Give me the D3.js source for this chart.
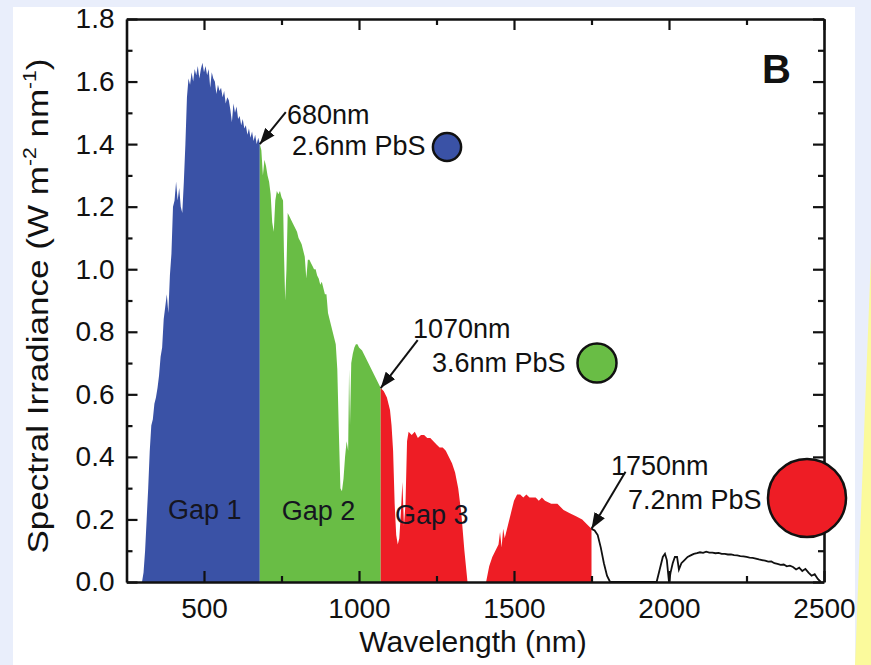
<!DOCTYPE html>
<html>
<head>
<meta charset="utf-8">
<script src="https://cdn.jsdelivr.net/npm/d3@7"></script>
<style>
  body { margin: 0; background: #e9eefb; }
  text { font-family: "Liberation Sans", Arial, sans-serif; }
</style>
</head>
<body>
<script>
// spectrum, split by band gap colour (W m-2 nm-1)
var gap1Nm = [300,305,310,315,320,325,330,335,340,345,350,355,360,365,370,375,380,385,390,395,
  400,405,410,415,420,425,430,435,440,445,450,455,460,465,470,475,480,485,490,495,
  500,505,510,515,520,525,530,535,540,545,550,555,560,565,570,575,580,585,590,595,
  600,605,610,615,620,625,630,635,640,645,650,655,660,665,670,675,680];
var gap1Irr = [0.00,0.03,0.10,0.20,0.30,0.42,0.50,0.52,0.57,0.59,0.62,0.66,0.72,0.75,0.84,0.88,0.92,0.86,0.98,1.05,
  1.20,1.22,1.28,1.22,1.26,1.20,1.18,1.28,1.40,1.55,1.61,1.59,1.63,1.60,1.64,1.62,1.65,1.61,1.64,1.66,
  1.63,1.65,1.62,1.64,1.58,1.63,1.61,1.60,1.56,1.59,1.57,1.58,1.55,1.57,1.53,1.55,1.54,1.51,1.47,1.53,
  1.50,1.52,1.48,1.49,1.46,1.48,1.45,1.46,1.43,1.45,1.42,1.44,1.41,1.43,1.40,1.42,1.40];

var gap2Nm = [680,685,690,695,700,705,710,715,720,725,730,735,740,745,750,755,758,762,766,770,
  775,780,790,800,805,810,815,820,825,830,835,840,845,850,855,860,865,870,875,880,
  885,890,895,900,905,910,915,920,925,930,935,940,945,950,955,960,965,968,971,975,
  980,985,990,995,1000,1010,1020,1030,1040,1050,1060,1070];
var gap2Irr = [1.40,1.38,1.30,1.35,1.33,1.30,1.28,1.24,1.15,1.12,1.22,1.25,1.24,1.25,1.23,1.22,1.05,0.90,1.00,1.18,
  1.17,1.16,1.14,1.12,1.10,1.09,1.08,1.06,1.04,0.97,1.03,1.03,1.02,1.01,1.00,1.00,0.98,0.97,0.95,0.96,
  0.94,0.92,0.92,0.86,0.84,0.82,0.80,0.78,0.76,0.68,0.48,0.30,0.29,0.33,0.40,0.45,0.42,0.68,0.50,0.70,
  0.73,0.75,0.76,0.76,0.75,0.74,0.72,0.70,0.68,0.66,0.64,0.62];

var gap3Nm = [1070,1080,1090,1100,1105,1110,1115,1120,1125,1130,1135,1140,1145,1150,1155,1160,1170,1180,1190,1200,
  1210,1220,1230,1240,1250,1260,1270,1280,1290,1300,1310,1320,1330,1340,1350,1410,1420,1430,1440,1450,
  1455,1460,1465,1470,1480,1490,1500,1510,1520,1530,1540,1550,1560,1570,1580,1590,1600,1620,1640,1660,
  1680,1700,1720,1740,1750];
var gap3Irr = [0.62,0.61,0.59,0.55,0.50,0.42,0.25,0.15,0.12,0.14,0.22,0.32,0.18,0.25,0.45,0.48,0.47,0.48,0.46,0.47,
  0.47,0.46,0.46,0.45,0.44,0.43,0.43,0.42,0.40,0.38,0.35,0.30,0.22,0.10,0.00,0.00,0.05,0.08,0.10,0.12,
  0.16,0.11,0.17,0.14,0.18,0.22,0.26,0.28,0.28,0.27,0.28,0.27,0.27,0.27,0.26,0.27,0.26,0.25,0.25,0.23,
  0.22,0.21,0.20,0.18,0.17];

var tailNm = [1750,1760,1770,1780,1790,1800,1810,1960,1970,1980,1987,1993,2000,2005,2012,2019,2026,2032,2040,2050,
  2060,2070,2080,2090,2100,2110,2120,2130,2140,2150,2160,2170,2180,2190,2200,2210,2220,2230,2240,2250,
  2260,2270,2280,2290,2300,2310,2320,2330,2340,2350,2360,2370,2380,2390,2400,2410,2420,2430,2440,2450,
  2460,2470,2480,2490];
var tailIrr = [0.17,0.165,0.15,0.11,0.06,0.02,0.00,0.00,0.04,0.08,0.09,0.07,0.00,0.03,0.06,0.08,0.08,0.04,0.06,0.07,
  0.08,0.085,0.09,0.092,0.095,0.093,0.097,0.094,0.094,0.092,0.093,0.09,0.09,0.088,0.088,0.086,0.085,0.083,0.082,0.08,
  0.078,0.077,0.075,0.072,0.07,0.068,0.065,0.066,0.06,0.058,0.055,0.056,0.05,0.052,0.048,0.04,0.046,0.035,0.042,0.03,
  0.02,0.025,0.01,0.00];

var gapNames = ["Gap 1", "Gap 2", "Gap 3"];
var cutoffNm = [680, 1070, 1750];
var cutoffLabels = ["680nm", "1070nm", "1750nm"];
var dotLabels = ["2.6nm PbS", "3.6nm PbS", "7.2nm PbS"];
var dotSizes = [2.6, 3.6, 7.2];

var xTicks = [500,750,1000,1250,1500,1750,2000,2250,2500];
var xLabels = [500,1000,1500,2000,2500];
var yTicks = [0,0.1,0.2,0.3,0.4,0.5,0.6,0.7,0.8,0.9,1.0,1.1,1.2,1.3,1.4,1.5,1.6,1.7,1.8];

var colors = ["#3a52a6", "#69bd45", "#ee1d25"];

var svg = d3.select("body").append("svg")
    .attr("width", 871)
    .attr("height", 665);

// page background: white card, yellow wedge on the right
svg.append("rect").attr("width", 871).attr("height", 665).attr("fill", "#e9eefb");
svg.append("rect").attr("x", 13).attr("y", 7).attr("width", 842).attr("height", 658).attr("fill", "#ffffff");
svg.append("path").attr("d", "M871,255L871,665L855,665Z").attr("fill", "#fbfa9c");

var x = d3.scaleLinear().domain([250, 2500]).range([126.5, 824]);
var y = d3.scaleLinear().domain([0, 1.8]).range([582, 19]);

var area = d3.area()
    .x(function(d) { return x(d[0]); })
    .y0(y(0))
    .y1(function(d) { return y(d[1]); });

var bands = [d3.zip(gap1Nm, gap1Irr), d3.zip(gap2Nm, gap2Irr), d3.zip(gap3Nm, gap3Irr)];

svg.selectAll(".band")
  .data(bands)
  .join("path")
    .attr("class", "band")
    .attr("d", area)
    .attr("fill", function(d, i) { return colors[i]; });

svg.append("path")
    .datum(d3.zip(tailNm, tailIrr))
    .attr("d", d3.line().x(function(d) { return x(d[0]); }).y(function(d) { return y(d[1]); }))
    .attr("fill", "none")
    .attr("stroke", "#111")
    .attr("stroke-width", 1.8);

// gap names inside the coloured bands
var gapLabelNm = [384, 751, 1116];
var gapLabelY = [519, 520, 524];
svg.selectAll(".gapname")
  .data(gapNames)
  .join("text")
    .attr("x", function(d, i) { return x(gapLabelNm[i]); })
    .attr("y", function(d, i) { return gapLabelY[i]; })
    .attr("font-size", 27)
    .attr("fill", "#151520")
    .text(function(d) { return d; });

// axes, ticks pointing inward
var isXLabel = function(d) { return xLabels.indexOf(d) >= 0; };
var isYLabel = function(d) { return Math.round(d * 10) % 2 === 0; };

function styleAxis(g) {
  g.select(".domain").attr("stroke", "#111").attr("stroke-width", 2.6);
  g.selectAll(".tick line").attr("stroke", "#111").attr("stroke-width", 2.2);
  g.selectAll(".tick text").attr("font-size", 28).attr("fill", "#111")
    .attr("font-family", '"Liberation Sans", Arial, sans-serif');
}

var gx = svg.append("g").attr("transform", "translate(0," + y(0) + ")")
  .call(d3.axisBottom(x).tickValues(xTicks).tickSize(-11).tickSizeOuter(0).tickPadding(16)
    .tickFormat(function(d) { return isXLabel(d) ? d : ""; }))
  .call(styleAxis);
gx.selectAll(".tick").filter(function(d) { return !isXLabel(d); }).select("line").attr("y2", -6);

var gxt = svg.append("g").attr("transform", "translate(0," + y(1.8) + ")")
  .call(d3.axisTop(x).tickValues(xTicks).tickSize(-11).tickSizeOuter(0).tickFormat(""))
  .call(styleAxis);
gxt.selectAll(".tick").filter(function(d) { return !isXLabel(d); }).select("line").attr("y2", 6);

var gy = svg.append("g").attr("transform", "translate(" + x(250) + ",0)")
  .call(d3.axisLeft(y).tickValues(yTicks).tickSize(-11).tickSizeOuter(0).tickPadding(12)
    .tickFormat(function(d) { return isYLabel(d) ? d3.format(".1f")(d) : ""; }))
  .call(styleAxis);
gy.selectAll(".tick").filter(function(d) { return !isYLabel(d); }).select("line").attr("x2", 6);

var gyr = svg.append("g").attr("transform", "translate(" + x(2500) + ",0)")
  .call(d3.axisRight(y).tickValues(yTicks).tickSize(-11).tickSizeOuter(0).tickFormat(""))
  .call(styleAxis);
gyr.selectAll(".tick").filter(function(d) { return !isYLabel(d); }).select("line").attr("x2", -6);

// axis titles
svg.append("text")
    .attr("x", 473)
    .attr("y", 652)
    .attr("text-anchor", "middle")
    .attr("font-size", 30)
    .attr("fill", "#111")
    .text("Wavelength (nm)");

var yt = svg.append("text")
    .attr("transform", "translate(48,306) rotate(-90)")
    .attr("text-anchor", "middle")
    .attr("font-size", 30)
    .attr("textLength", 495)
    .attr("lengthAdjust", "spacingAndGlyphs")
    .attr("fill", "#111");
yt.append("tspan").text("Spectral Irradiance (W m");
yt.append("tspan").attr("dy", -12).attr("font-size", 18).text("-2");
yt.append("tspan").attr("dy", 12).text(" nm");
yt.append("tspan").attr("dy", -12).attr("font-size", 18).text("-1");
yt.append("tspan").attr("dy", 12).text(")");

svg.append("text")
    .attr("x", 762)
    .attr("y", 83)
    .attr("font-size", 40)
    .attr("font-weight", "bold")
    .attr("fill", "#111")
    .text("B");

// cut-off annotations: arrow to the spectrum, label, dot sized by PbS diameter
svg.append("defs").append("marker")
    .attr("id", "head")
    .attr("viewBox", "0 0 16 12")
    .attr("refX", 16).attr("refY", 6)
    .attr("markerWidth", 16).attr("markerHeight", 12)
    .attr("markerUnits", "userSpaceOnUse")
    .attr("orient", "auto")
  .append("path").attr("d", "M0,0L16,6L0,12Z").attr("fill", "#111");

var cutoffIrr = [gap1Irr[gap1Irr.length - 1], gap2Irr[gap2Irr.length - 1], gap3Irr[gap3Irr.length - 1]];
var arrowFrom = [[26, -32], [37, -48], [34, -57]];
var labelAt = [[287, 124], [413, 338], [611, 475]];
var subAt = [[292, 155], [432, 372], [628, 509]];
var dotAt = [[447, 147], [597, 363], [807, 498]];
var r = d3.scaleLinear().domain([0, 1]).range([0, 5.42]);

cutoffNm.forEach(function(nm, i) {
  var tx = x(nm), ty = y(cutoffIrr[i]);
  svg.append("line")
      .attr("x1", tx + arrowFrom[i][0]).attr("y1", ty + arrowFrom[i][1])
      .attr("x2", tx).attr("y2", ty)
      .attr("stroke", "#111").attr("stroke-width", 2)
      .attr("marker-end", "url(#head)");
  svg.append("text").attr("x", labelAt[i][0]).attr("y", labelAt[i][1])
      .attr("font-size", 27).attr("fill", "#111").text(cutoffLabels[i]);
  svg.append("text").attr("x", subAt[i][0]).attr("y", subAt[i][1])
      .attr("font-size", 27).attr("fill", "#111").text(dotLabels[i]);
  svg.append("circle")
      .attr("cx", dotAt[i][0]).attr("cy", dotAt[i][1])
      .attr("r", r(dotSizes[i]))
      .attr("fill", colors[i])
      .attr("stroke", "#111").attr("stroke-width", 2.5);
});
</script>
</body>
</html>
